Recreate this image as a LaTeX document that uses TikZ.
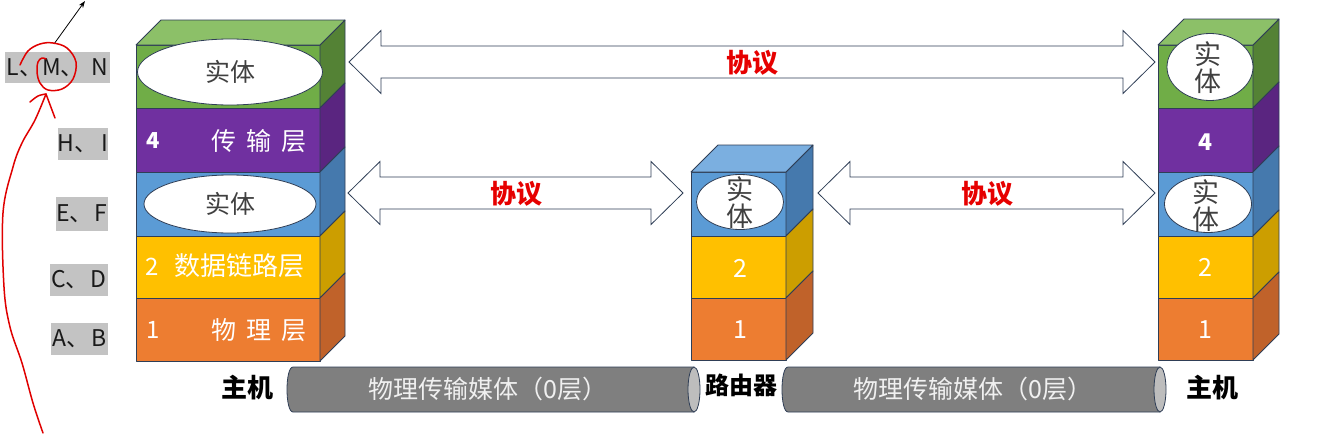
\documentclass[tikz,border=0pt]{standalone}
\usepackage{fontspec}
\setmainfont{Noto Sans CJK SC}
\usetikzlibrary{shapes.geometric,calc,arrows.meta}
\definecolor{navy}{HTML}{2F3E56}
\definecolor{gF}{HTML}{70AD47}\definecolor{gS}{HTML}{548235}\definecolor{gT}{HTML}{8CC068}
\definecolor{pF}{HTML}{7030A0}\definecolor{pS}{HTML}{5A2580}
\definecolor{bF}{HTML}{5B9BD5}\definecolor{bS}{HTML}{4579AD}\definecolor{bT}{HTML}{7BAFE0}
\definecolor{yF}{HTML}{FFC000}\definecolor{yS}{HTML}{CC9E00}
\definecolor{oF}{HTML}{ED7D31}\definecolor{oS}{HTML}{C0622A}
\definecolor{cyl}{HTML}{7F7F7F}\definecolor{cylEnd}{HTML}{BDBDBD}
\definecolor{lblgray}{HTML}{C3C3C3}
\definecolor{protored}{HTML}{E60000}
\definecolor{inkred}{HTML}{E00000}
\tikzset{
 face/.style={draw=navy, line width=0.8pt, line join=round},
 frontface/.style={face, rectangle, anchor=north west, inner sep=0pt, outer sep=0pt},
 ent/.style={ellipse, draw=navy, line width=0.8pt, fill=white, inner sep=0pt, text=black!75, font=\fontsize{25}{27}\selectfont},
 vent/.style={align=center, text=black!75, inner sep=0pt, font=\fontsize{27}{27}\selectfont},
 num/.style={text=white, inner sep=0pt, font=\fontsize{22}{24}\selectfont},
 lyr/.style={text=white, inner sep=0pt, font=\fontsize{25}{27}\selectfont},
 proto/.style={text=protored, inner sep=0pt, font=\bfseries\fontsize{26}{28}\selectfont},
 arrowbox/.style={draw=navy, line width=0.8pt, fill=white, line join=miter},
 graybox/.style={fill=lblgray, inner sep=0pt, text=black!90, font=\fontsize{23}{25}\selectfont},
 hostlbl/.style={inner sep=0pt, font=\bfseries\fontsize{26}{28}\selectfont},
 medtxt/.style={text=white!88!gray, inner sep=0pt, font=\fontsize{25}{27}\selectfont},
 redink/.style={draw=inkred, line width=1.5pt, line cap=round, line join=round},
}
% name, x, ytop, w, h, front colour, side colour, depth
\newcommand{\stacklayer}[8]{%
 \node[frontface, fill=#6, minimum width=#4pt, minimum height=#5pt] (#1) at (#2,#3) {};
 \filldraw[face, fill=#7] (#1.north east) -- ++(#8,-#8) -- ++(0,#5) -- (#1.south east) -- cycle;
}
% name, depth, colour
\newcommand{\stacktop}[3]{%
 \filldraw[face, fill=#3] (#1.north west) -- ++(#2,-#2) -- ($(#1.north east)+(#2,-#2)$) -- (#1.north east) -- cycle;
}
% block double arrow between two tips
\newcommand{\dblarrow}[2]{%
 \draw[arrowbox] (#1) -- ++(32,-31.5) -- ++(0,15.5) -- ($(#2)+(-32,-16)$) -- ++(0,-15.5) -- (#2)
  -- ++(-32,31.5) -- ++(0,-15.5) -- ($(#1)+(32,16)$) -- ++(0,15.5) -- cycle;
}
% name, x1, x2
\newcommand{\medium}[3]{%
 \filldraw[face, fill=cyl] (#2+6,367) .. controls (#2-2,367) and (#2-2,412) .. (#2+6,412) -- (#3-6,412) -- (#3-6,367) -- cycle;
 \node[ellipse, draw=navy, line width=0.8pt, fill=cylEnd, minimum width=12pt, minimum height=45pt, inner sep=0pt] (#1end) at (#3-6,389.5) {};
}
\begin{document}
\begin{tikzpicture}[x=1pt,y=-1pt]
\useasboundingbox (0,0) rectangle (1317,434);
\fill[white] (0,0) rectangle (1317,434);

% ---------- left host ----------
\stacklayer{hA5}{136}{45}{184}{63}{gF}{gS}{25}
\stacklayer{hA4}{136}{108}{184}{64}{pF}{pS}{25}
\stacklayer{hA3}{136}{172}{184}{64}{bF}{bS}{25}
\stacklayer{hA2}{136}{236}{184}{62}{yF}{yS}{25}
\stacklayer{hA1}{136}{298}{184}{63}{oF}{oS}{25}
\stacktop{hA5}{25}{gT}
\node[ent, minimum width=185pt, minimum height=66pt] (eA5) at (230,72) {实体};
\node[ent, minimum width=172pt, minimum height=58pt] (eA3) at (230,204) {实体};
\node[num, font=\bfseries\fontsize{22}{24}\selectfont] (nA4) at (153,141) {4};
\node[lyr] (tA4) at (259,141) {传\hspace{10pt}输\hspace{10pt}层};
\node[num, font=\fontsize{24}{26}\selectfont] (nA2) at (152,267) {2};
\node[lyr, font=\fontsize{26}{27}\selectfont] (tA2) at (239,266) {数据链路层};
\node[num, font=\fontsize{24}{26}\selectfont] (nA1) at (153,330) {1};
\node[lyr] (tA1) at (259,330) {物\hspace{10pt}理\hspace{10pt}层};

% ---------- router ----------
\stacklayer{r3}{691}{172}{95}{64}{bF}{bS}{27}
\stacklayer{r2}{691}{236}{95}{62}{yF}{yS}{27}
\stacklayer{r1}{691}{298}{95}{62}{oF}{oS}{27}
\stacktop{r3}{27}{bT}
\node[ent, minimum width=87pt, minimum height=55pt] (er3) at (740,202) {};
\node[vent] (vr3) at (740,203) {实\\体};
\node[num, font=\fontsize{25}{27}\selectfont] (nr2) at (740,268) {2};
\node[num, font=\fontsize{25}{27}\selectfont] (nr1) at (740,330) {1};

% ---------- right host ----------
\stacklayer{hB5}{1158}{45}{95}{63}{gF}{gS}{26}
\stacklayer{hB4}{1158}{108}{95}{64}{pF}{pS}{26}
\stacklayer{hB3}{1158}{172}{95}{64}{bF}{bS}{26}
\stacklayer{hB2}{1158}{236}{95}{62}{yF}{yS}{26}
\stacklayer{hB1}{1158}{298}{95}{62}{oF}{oS}{26}
\stacktop{hB5}{26}{gT}
\node[ent, minimum width=86pt, minimum height=67pt] (eB5) at (1210,67) {};
\node[vent] (vB5) at (1208,68) {实\\体};
\node[ent, minimum width=87pt, minimum height=57pt] (eB3) at (1208,204) {};
\node[vent] (vB3) at (1206,206) {实\\体};
\node[num, font=\bfseries\fontsize{23}{25}\selectfont] (nB4) at (1205,142) {4};
\node[num, font=\fontsize{25}{27}\selectfont] (nB2) at (1205,267) {2};
\node[num, font=\fontsize{25}{27}\selectfont] (nB1) at (1205,330) {1};

% ---------- protocol arrows ----------
\coordinate (tL) at (349,62);
\coordinate (tR) at (1155,62);
\coordinate (mL1) at (348,193);
\coordinate (mR1) at (683,193);
\coordinate (mL2) at (818,193);
\coordinate (mR2) at (1155,193);
\dblarrow{tL}{tR}
\dblarrow{mL1}{mR1}
\dblarrow{mL2}{mR2}
\node[proto] (p1) at (752,63) {协议};
\node[proto] (p2) at (516,194) {协议};
\node[proto] (p3) at (987,194) {协议};

% ---------- media ----------
\medium{cA}{287}{700}
\medium{cB}{782}{1166}
\node[medtxt] (mtA) at (488,389) {物理传输媒体（0层）};
\node[medtxt] (mtB) at (973,389) {物理传输媒体（0层）};
\node[hostlbl] (lhA) at (247,388) {主机};
\node[hostlbl, font=\bfseries\fontsize{24}{26}\selectfont] (lr) at (741,385) {路由器};
\node[hostlbl] (lhB) at (1212,388) {主机};

% ---------- left gray labels ----------
\node[graybox, minimum width=105pt, minimum height=31pt] (gLMN) at (57.5,67.5) {L、M、\hspace{8pt}N};
\node[graybox, minimum width=50pt, minimum height=32pt] (gHI) at (83,144) {H、\hspace{4pt}I};
\node[graybox, minimum width=52pt, minimum height=34pt] (gEF) at (82,214) {E、\hspace{2pt}F};
\node[graybox, minimum width=58pt, minimum height=32pt] (gCD) at (79,280) {C、\hspace{2pt}D};
\node[graybox, minimum width=57pt, minimum height=32pt] (gAB) at (79.5,339) {A、\hspace{2pt}B};

% ---------- annotations ----------
\coordinate (arS) at (54,44);
\coordinate (arE) at (85,1);
\draw[line width=0.8pt, -{Stealth[length=7pt,width=5pt]}] (arS) -- (arE);
\draw[redink] plot[smooth, tension=0.6] coordinates {(20,65) (28,51) (40,44) (53,43) (67,48) (76,62) (73,79) (62,89) (48,90) (40,83) (37,72) (38,62) (42,58) (46,59)};
\draw[redink] plot[smooth, tension=0.6] coordinates {(43,433) (33,403) (22,363) (10,327) (4,287) (3,213) (13,167) (22,143) (35,120) (46,94)};
\draw[redink] plot[smooth, tension=0.6] coordinates {(30,102) (38,96) (46,94)};
\draw[redink] (46,94) -- (55,118);
\end{tikzpicture}
\end{document}
